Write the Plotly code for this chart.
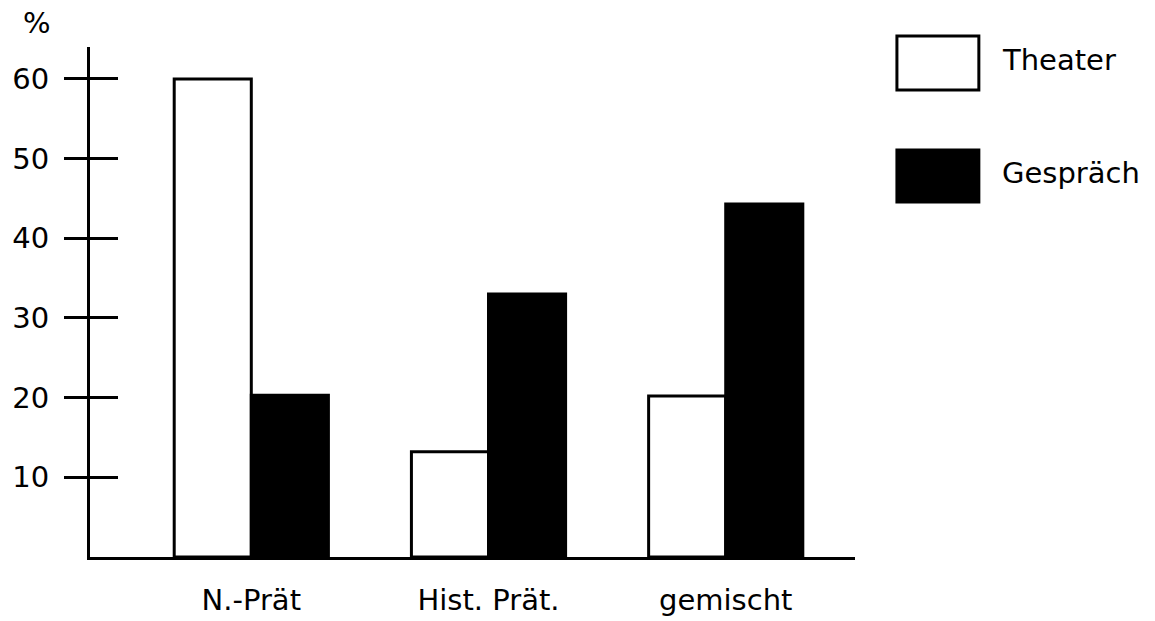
import plotly.graph_objects as go

categories = ["N.-Prät", "Hist. Prät.", "gemischt"]
theater = [60.0, 13.2, 20.2]
gespraech = [20.3, 33.0, 44.3]
series_names = ["Theater", "Gespräch"]
series_fill = ["white", "black"]
yticks = [10, 20, 30, 40, 50, 60]

FONT = dict(family="DejaVu Sans, Verdana, sans-serif", size=29, color="black")

fig = go.Figure()
fig.add_bar(x=categories, y=theater, name=series_names[0],
            marker=dict(color=series_fill[0], line=dict(color="black", width=3)))
fig.add_bar(x=categories, y=gespraech, name=series_names[1],
            marker=dict(color=series_fill[1], line=dict(color="black", width=3)))
# invisible helper trace so the second (inside-tick) y axis is drawn
fig.add_scatter(x=categories, y=gespraech, yaxis="y2", mode="none",
                hoverinfo="skip", showlegend=False)

fig.update_layout(
    width=1155, height=621,
    paper_bgcolor="white", plot_bgcolor="white",
    margin=dict(l=90, r=300, t=47, b=64),
    barmode="group", bargap=0.35, bargroupgap=0,
    showlegend=False,
    font=FONT,
    xaxis=dict(range=[-0.68, 2.545], showline=True, linewidth=3, linecolor="black",
               ticks="", showgrid=False, zeroline=False, tickfont=FONT,
               ticklabelstandoff=15, automargin=False),
    yaxis=dict(range=[0, 64], tickvals=yticks, ticks="outside", ticklen=23,
               tickwidth=3, tickcolor="black", showline=True, linewidth=3,
               linecolor="black", showgrid=False, zeroline=False, tickfont=FONT,
               ticklabelstandoff=9, automargin=False),
    yaxis2=dict(range=[0, 64], tickvals=yticks, ticks="inside", ticklen=28,
                tickwidth=3, tickcolor="black", showticklabels=False,
                showline=False, showgrid=False, zeroline=False,
                overlaying="y", side="left", automargin=False),
)

# "%" axis unit
fig.add_annotation(text="%", xref="paper", yref="paper", x=-0.069, y=1.048,
                   showarrow=False, font=FONT, xanchor="center", yanchor="middle")

# custom legend (large swatches)
legend_boxes = [(1.0215, 0.9157), (0.798, 0.696)]
legend_text_y = [0.9745, 0.753]
for name, fill, (y1, y0), ty in zip(series_names, series_fill, legend_boxes, legend_text_y):
    fig.add_shape(type="rect", xref="paper", yref="paper",
                  x0=1.0548, x1=1.1619, y0=y0, y1=y1,
                  fillcolor=fill, line=dict(color="black", width=3))
    fig.add_annotation(text=name, xref="paper", yref="paper", x=1.19, y=ty,
                       showarrow=False, font=FONT, xanchor="left", yanchor="middle")

fig.write_html("out.html", config={"displayModeBar": False},
               post_script="document.body.style.margin='0';document.body.style.overflow='hidden';")
